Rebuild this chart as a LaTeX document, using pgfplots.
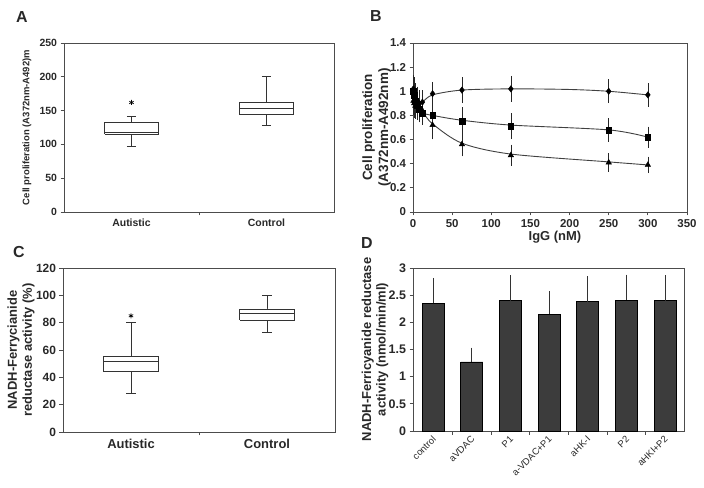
\documentclass[border=0pt]{standalone}
\usepackage{fontspec}
\setmainfont{Liberation Sans}
\usepackage{pgfplots}
\pgfplotsset{compat=1.18}

\newcommand{\fs}[1]{\fontsize{#1}{#1}\selectfont}
\definecolor{ink}{RGB}{40,40,40}
\definecolor{barfill}{RGB}{60,60,60}

\pgfplotsset{
  panel/.style={
    scale only axis, anchor=south west, clip=false,
    axis line style={black!70, line width=0.9pt},
    every tick/.style={black!70, line width=0.8pt},
    tick align=outside, xtick pos=bottom, ytick pos=left,
    major tick length=3.5bp, minor tick length=3.5bp,
    /pgf/number format/assume math mode=true,
    tick label style={text=ink},
  },
  bxline/.style={black!80, line width=0.8pt, mark=none},
}

\begin{document}
\begin{tikzpicture}
\useasboundingbox (0,0) rectangle (704bp,488bp);

% panel letters
\node[font=\bfseries\fs{16}, text=ink] at (22bp,471bp) {A};
\node[font=\bfseries\fs{16}, text=ink] at (376bp,472bp) {B};
\node[font=\bfseries\fs{16}, text=ink] at (19bp,236bp) {C};
\node[font=\bfseries\fs{16}, text=ink] at (367bp,245bp) {D};

% ---- A
\begin{axis}[panel, at={(64bp,276bp)}, width=270bp, height=169bp,
  xmin=0.5, xmax=2.5, ymin=0, ymax=250, ytick={0,50,100,150,200,250},
  xtick={1,2}, xticklabels={Autistic,Control},
  major x tick style={draw=none}, minor xtick={1.5},
  tick label style={font=\bfseries\fs{10.5}},
  ylabel={Cell proliferation (A372nm-A492)m},
  ylabel style={font=\bfseries\fs{9.5}, text=ink, at={(axis description cs:-0.137,0.5)}, anchor=center}]
  % Autistic: whiskers 97-142, box 115-132, median 118
  \addplot[bxline] coordinates {(1,97)(1,142)};
  \addplot[bxline] coordinates {(0.965,142)(1.035,142)};
  \addplot[bxline] coordinates {(0.965,97)(1.035,97)};
  \addplot[bxline, fill=white] coordinates {(0.8,115)(1.2,115)(1.2,132)(0.8,132)(0.8,115)};
  \addplot[bxline] coordinates {(0.8,118)(1.2,118)};
  \addplot[only marks, mark=asterisk, mark size=2.5bp, black, mark options={line width=0.7pt}] coordinates {(1,162)};
  % Control: whiskers 128-200, box 144-162, median 153
  \addplot[bxline] coordinates {(2,128)(2,200)};
  \addplot[bxline] coordinates {(1.965,200)(2.035,200)};
  \addplot[bxline] coordinates {(1.965,128)(2.035,128)};
  \addplot[bxline, fill=white] coordinates {(1.8,144)(2.2,144)(2.2,162)(1.8,162)(1.8,144)};
  \addplot[bxline] coordinates {(1.8,153)(2.2,153)};
\end{axis}

% ---- B
\begin{axis}[panel, at={(413bp,276bp)}, width=274bp, height=169bp,
  xmin=0, xmax=350, ymin=0, ymax=1.4,
  xtick={0,50,100,150,200,250,300,350},
  ytick={0,0.2,0.4,0.6,0.8,1,1.2,1.4},
  tick label style={font=\bfseries\fs{11.5}},
  xlabel={IgG (nM)}, xlabel style={font=\bfseries\fs{13}, text=ink, at={(axis description cs:0.518,-0.148)}, anchor=center},
  ylabel={Cell proliferation\\(A372nm-A492nm)},
  ylabel style={font=\bfseries\fontsize{13.5}{16}\selectfont, text=ink, align=center, at={(axis description cs:-0.133,0.5)}, anchor=center},
  error bars/error bar style={line width=0.7pt, black!85},
  error bars/error mark options={line width=0.7pt, mark size=2.2bp, black!85}]
  % fitted curves
  \addplot[black!75, line width=0.9pt, smooth, no marks] coordinates {
    (2,0.87)(12,0.91)(25,0.97)(62.5,1.01)(125,1.02)(200,1.015)(250,1.0)(300,0.97)};
  \addplot[black!75, line width=0.9pt, smooth, no marks] coordinates {
    (2,0.86)(12,0.82)(25,0.80)(62.5,0.76)(125,0.72)(250,0.68)(300,0.62)};
  \addplot[black!75, line width=0.9pt, smooth, no marks] coordinates {
    (2,0.88)(12,0.83)(25,0.73)(62.5,0.57)(125,0.48)(250,0.415)(300,0.39)};
  % data
  \addplot[black, only marks, mark=diamond*, mark size=3.2bp,
    error bars/.cd, y dir=both, y explicit] table[x=x, y=y, y error=e] {
    x y e
    0.5 1.02 0.10
    1.5 0.99 0.11
    3 0.95 0.10
    5 0.92 0.10
    8 0.90 0.09
    12 0.91 0.08
    25 0.98 0.08
    62.5 1.01 0.09
    125 1.02 0.09
    250 1.00 0.08
    300 0.97 0.08
  };
  \addplot[black, only marks, mark=square*, mark size=2.8bp,
    error bars/.cd, y dir=both, y explicit] table[x=x, y=y, y error=e] {
    x y e
    0.5 1.00 0.10
    1.5 0.97 0.10
    3 0.92 0.10
    5 0.88 0.09
    8 0.85 0.09
    12 0.82 0.08
    25 0.80 0.07
    62.5 0.75 0.10
    125 0.71 0.09
    250 0.68 0.08
    300 0.62 0.07
  };
  \addplot[black, only marks, mark=triangle*, mark size=3.2bp,
    error bars/.cd, y dir=both, y explicit] table[x=x, y=y, y error=e] {
    x y e
    0.5 0.92 0.10
    1.5 0.90 0.10
    3 0.88 0.09
    5 0.87 0.09
    8 0.86 0.09
    12 0.84 0.08
    25 0.72 0.10
    62.5 0.56 0.08
    125 0.47 0.07
    250 0.41 0.06
    300 0.39 0.05
  };
\end{axis}

% ---- C
\begin{axis}[panel, at={(63bp,56bp)}, width=272bp, height=164bp,
  xmin=0.5, xmax=2.5, ymin=0, ymax=120, ytick={0,20,40,60,80,100,120},
  xtick={1,2}, xticklabels={Autistic,Control},
  major x tick style={draw=none}, minor xtick={1.5},
  yticklabel style={font=\bfseries\fs{12}},
  xticklabel style={font=\bfseries\fs{13}},
  ylabel={NADH-Ferrycianide\\reductase activity (\%)},
  ylabel style={font=\bfseries\fontsize{13}{15}\selectfont, text=ink, align=center, at={(axis description cs:-0.154,0.5)}, anchor=center}]
  % Autistic: whiskers 28-80, box 44-55, median 52
  \addplot[bxline] coordinates {(1,28)(1,80)};
  \addplot[bxline] coordinates {(0.965,80)(1.035,80)};
  \addplot[bxline] coordinates {(0.965,28)(1.035,28)};
  \addplot[bxline, fill=white] coordinates {(0.8,44)(1.2,44)(1.2,55)(0.8,55)(0.8,44)};
  \addplot[bxline] coordinates {(0.8,52)(1.2,52)};
  \addplot[only marks, mark=asterisk, mark size=2.5bp, black, mark options={line width=0.7pt}] coordinates {(1,85)};
  % Control: whiskers 73-100, box 82-90, median 87
  \addplot[bxline] coordinates {(2,73)(2,100)};
  \addplot[bxline] coordinates {(1.965,100)(2.035,100)};
  \addplot[bxline] coordinates {(1.965,73)(2.035,73)};
  \addplot[bxline, fill=white] coordinates {(1.8,82)(2.2,82)(2.2,90)(1.8,90)(1.8,82)};
  \addplot[bxline] coordinates {(1.8,87)(2.2,87)};
\end{axis}

% ---- D
\begin{axis}[panel, ybar, bar width=22bp, at={(413bp,57bp)}, width=271bp, height=163bp,
  xmin=-0.52, xmax=6.49, ymin=0, ymax=3,
  ytick={0,0.5,1,1.5,2,2.5,3},
  xtick={0,1,2,3,4,5,6},
  xticklabels={control,aVDAC,P1,a-VDAC+P1,aHK-I,P2,aHKI+P2},
  major x tick style={draw=none}, minor xtick={0.5,1.5,2.5,3.5,4.5,5.5},
  yticklabel style={font=\bfseries\fs{12.5}},
  xticklabel style={font=\fs{9.5}, rotate=45, anchor=east, xshift=2bp, yshift=-3bp},
  ylabel={NADH-Ferricyanide reductase\\activity (nmol/min/ml)},
  ylabel style={font=\bfseries\fontsize{13}{14.5}\selectfont, text=ink, align=center, at={(axis description cs:-0.14,0.5)}, anchor=center}]
  \addplot[fill=barfill, draw=black, line width=0.6pt,
    error bars/.cd, y dir=plus, y explicit,
    error bar style={line width=0.8pt, black!80},
    error mark options={line width=0.8pt, mark size=2.5bp, black!80}]
    table[x=x, y=y, y error=e] {
    x y e
    0 2.35 0.42
    1 1.27 0.22
    2 2.40 0.42
    3 2.15 0.38
    4 2.38 0.42
    5 2.41 0.42
    6 2.40 0.42
  };
\end{axis}
\end{tikzpicture}
\end{document}
